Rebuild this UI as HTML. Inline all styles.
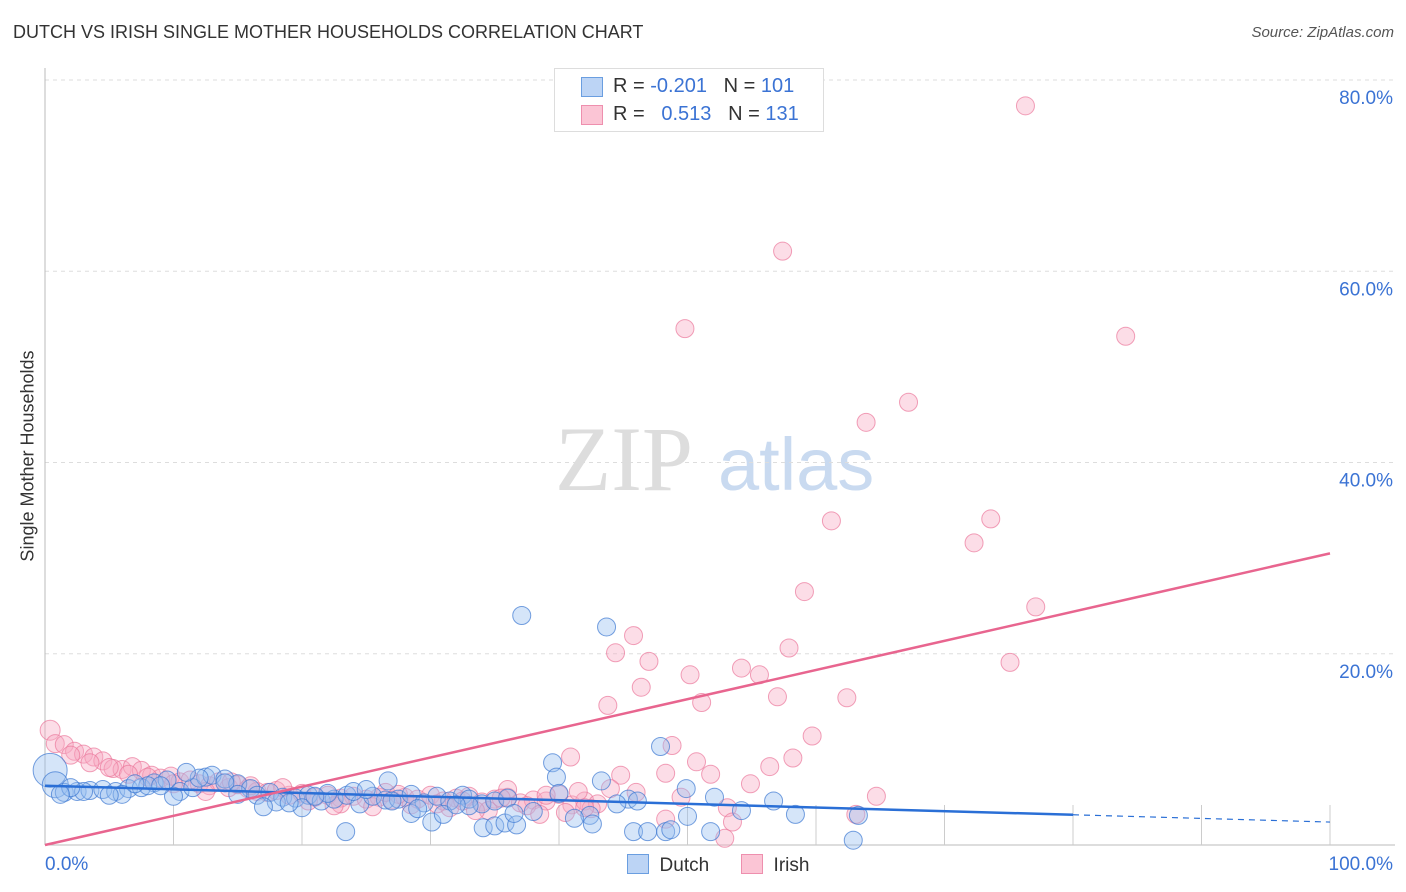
<!DOCTYPE html>
<html><head><meta charset="utf-8"><style>
body{margin:0;background:#fff;font-family:"Liberation Sans",sans-serif;}
#wrap{position:relative;width:1406px;height:892px;overflow:hidden;}
.t{position:absolute;white-space:nowrap;}
</style></head><body>
<div id="wrap">
<div class="t" style="left:13px;top:22px;font-size:18px;color:#333;">DUTCH VS IRISH SINGLE MOTHER HOUSEHOLDS CORRELATION CHART</div>
<div class="t" style="right:12px;top:24px;font-size:15px;color:#555;font-style:italic;">Source: ZipAtlas.com</div>
<svg id="svg" width="1406" height="892" style="position:absolute;left:0;top:0"></svg>
</div>
<script>
const xTicks=[0,100];
const yTicks=[20,40,60,80];
const dutchX=[0.4,0.8,1.5,2.5,3.5,4.5,5.5,6.5,7.5,8.5,9.5,10.5,11.5,12.5,13,14,15,16,16.5,17.5,18.5,19.5,20.5,21.5,22.5,23.5,24.5,25.5,26.5,27.5,28.5,29.5,30.5,31.5,32.5,33,34,35,36,14,12,10,8,6,18,20,22,24,26.7,28.5,37.1,43.7,47.9,39.5,39.8,43.3,49.9,52.1,56.7,45.4,46.1,50.0,58.4,63.3,54.2,42.4,41.2,30.1,34.1,35.0,35.8,36.7,23.4,45.8,46.9,48.3,48.7,51.8,62.9,42.6,38,40,33,31,27,25,21,19,17,15,11,9,7,5,3,2,1.2,29,32,36.5,44.5];
const dutchY=[7.8,6.3,5.5,5.6,5.7,5.8,5.6,5.9,6.0,6.5,6.8,5.6,6.0,7.1,7.3,6.9,6.4,5.9,5.2,5.5,5.0,4.9,5.2,4.6,4.8,5.2,4.3,5.1,4.7,4.8,5.3,4.4,5.1,4.6,5.2,4.8,4.3,4.6,4.9,6.5,7.0,5.1,6.2,5.3,4.5,3.9,5.4,5.6,6.7,3.3,24.0,22.8,10.3,8.6,7.1,6.7,5.9,5.0,4.6,4.8,4.6,3.0,3.2,3.1,3.6,3.1,2.8,2.4,1.8,2.0,2.3,2.1,1.4,1.4,1.4,1.4,1.6,1.4,0.5,2.2,3.5,5.4,4.1,3.2,4.6,5.8,5.1,4.4,4.0,5.3,7.6,6.2,6.4,5.2,5.6,6.0,5.3,3.8,4.2,3.3,4.3];
const irishX=[76.3,57.4,49.8,84.1,63.9,67.2,61.2,73.6,72.3,59.1,77.1,45.8,44.4,47.0,57.9,75.1,54.2,50.2,55.6,46.4,57.0,62.4,43.8,51.1,59.7,48.8,40.9,58.2,50.7,56.4,44.8,48.3,51.8,54.9,64.7,53.1,63.1,53.5,48.3,52.9,0.4,0.8,1.5,2.3,3.0,3.8,4.5,5.3,6.0,6.8,7.5,8.3,9.0,9.8,10.5,11.3,12.0,12.8,13.5,14.3,15.0,15.8,16.5,17.3,18.0,19.0,20.0,21.0,22.0,23.0,24.0,25.0,26.0,27.0,28.0,29.0,30.0,31.0,32.0,33.0,34.0,35.0,36.0,37.0,38.0,39.0,40.0,41.0,42.0,43.0,25.5,28.5,31.5,34.5,37.5,40.5,42.5,23,32.5,36,39,41.5,44,46,49.5,20.5,18.5,16,14.5,12.5,10,8,6.5,5,3.5,2,30.5,33.5,26.5,35.5,38.5,42,22.5,27.5];
const irishY=[77.3,62.1,54.0,53.2,44.2,46.3,33.9,34.1,31.6,26.5,24.9,21.9,20.1,19.2,20.6,19.1,18.5,17.8,17.8,16.5,15.5,15.4,14.6,14.9,11.4,10.4,9.2,9.1,8.7,8.2,7.3,7.5,7.4,6.4,5.1,3.9,3.2,2.4,2.7,0.7,12.0,10.6,10.5,9.8,9.5,9.2,8.8,8.0,7.9,8.2,7.8,7.3,7.0,7.2,6.6,6.8,6.4,6.2,6.6,6.0,6.3,5.9,5.6,5.5,5.7,5.2,5.4,5.0,5.2,4.9,5.1,4.8,5.0,4.7,5.0,4.8,5.2,4.6,4.9,5.1,4.5,4.8,5.0,4.4,4.7,4.6,5.3,4.2,4.6,4.3,4.0,4.2,3.9,3.6,4.1,3.4,3.8,4.3,4.6,5.8,5.2,5.6,5.9,5.5,5.0,4.6,6.0,6.2,6.6,5.6,6.4,7.1,7.4,8.1,8.6,9.4,4.3,3.6,5.5,4.9,3.2,3.9,4.1,5.3];
const dutchTrend=[6.2,2.4];
const irishTrend=[0,30.5];
const NS="http://www.w3.org/2000/svg";
const svg=document.getElementById('svg');
const X0=45,X1=1330,Y0=845,Y80=80;
const sx=v=>X0+(X1-X0)*v/100;
const sy=v=>Y0-(Y0-Y80)*v/80;
function mk(tag,attrs){const e=document.createElementNS(NS,tag);for(const k in attrs)e.setAttribute(k,attrs[k]);svg.appendChild(e);return e;}
// watermark
let wm=mk('text',{x:555,y:490,'font-size':92,'font-family':'Liberation Serif,serif',fill:'#ddd'});wm.textContent='ZIP';


let wm2=mk('text',{x:718,y:490,'font-size':74,'font-family':'Liberation Sans,sans-serif',fill:'#c9daf0'});wm2.textContent='atlas';


// grid
yTicks.forEach(v=>{
 let g=mk('line',{x1:X0,x2:1395,y1:sy(v),y2:sy(v),stroke:'#ddd','stroke-dasharray':'4,4'});
 
 
 let t=mk('text',{x:1393,y:sy(v)+24,'text-anchor':'end','font-size':19,fill:'#3b73d4'});t.textContent=v.toFixed(1)+'%';
 
 
});
let ax=mk('line',{x1:X0,x2:X0,y1:68,y2:Y0,stroke:'#bbb'});


let bx=mk('line',{x1:X0,x2:1395,y1:Y0,y2:Y0,stroke:'#bbb'});


for(let i=1;i<=10;i++){let tk=mk('line',{x1:sx(i*10),x2:sx(i*10),y1:Y0-40,y2:Y0,stroke:'#ccc'});
 
 }
xTicks.forEach(v=>{let t=mk('text',{x:v==0?45:1393,y:870,'text-anchor':v==0?'start':'end','font-size':19,fill:'#3b73d4'});t.textContent=v.toFixed(1)+'%';
 
 });
// points
irishX.forEach((x,i)=>{let r=i==40?10:9;let c=mk('circle',{cx:sx(x),cy:sy(irishY[i]),r:r,fill:'rgba(248,170,195,0.4)',stroke:'rgba(235,120,155,0.7)','stroke-width':1});
 
 });
dutchX.forEach((x,i)=>{let r=i==0?17:(i==1?13:9);let c=mk('circle',{cx:sx(x),cy:sy(dutchY[i]),r:r,fill:'rgba(150,190,240,0.4)',stroke:'rgba(60,120,210,0.7)','stroke-width':1});
 
 });
// trends
const bAt=x=>dutchTrend[0]+(dutchTrend[1]-dutchTrend[0])*x/100;
let tl=mk('line',{x1:sx(0),y1:sy(bAt(0)),x2:sx(80),y2:sy(bAt(80)),stroke:'#2a6fd6','stroke-width':2.5});


let td=mk('line',{x1:sx(80),y1:sy(bAt(80)),x2:sx(100),y2:sy(bAt(100)),stroke:'#2a6fd6','stroke-width':1.2,'stroke-dasharray':'6,5'});


let pl=mk('line',{x1:sx(0),y1:sy(irishTrend[0]),x2:sx(100),y2:sy(irishTrend[1]),stroke:'#e8658f','stroke-width':2.5});


</script>
<div class="t" style="left:28px;top:456px;font-size:18px;color:#333;transform:translate(-50%,-50%) rotate(-90deg);">Single Mother Households</div>
<div style="position:absolute;left:554px;top:68px;width:268px;height:62px;border:1px solid #ddd;background:#fff;font-size:20px;">
 <div style="position:absolute;left:26px;top:8px;width:20px;height:18px;background:#bcd4f5;border:1px solid #6a9ee0;"></div>
 <div class="t" style="left:58px;top:6px;color:#333;">R = <span style="color:#3b73d4">-0.201</span>&nbsp;&nbsp;&nbsp;N = <span style="color:#3b73d4">101</span></div>
 <div style="position:absolute;left:26px;top:36px;width:20px;height:18px;background:#fbc5d5;border:1px solid #ee8fae;"></div>
 <div class="t" style="left:58px;top:34px;color:#333;">R = &nbsp;&nbsp;<span style="color:#3b73d4">0.513</span>&nbsp;&nbsp;&nbsp;N = <span style="color:#3b73d4">131</span></div>
</div>
<div style="position:absolute;left:627px;top:854px;font-size:19px;color:#333;">
 <span style="display:inline-block;width:20px;height:18px;background:#bcd4f5;border:1px solid #6a9ee0;vertical-align:-3px;"></span>&nbsp; Dutch</div>
<div style="position:absolute;left:741px;top:854px;font-size:19px;color:#333;">
 <span style="display:inline-block;width:20px;height:18px;background:#fbc5d5;border:1px solid #ee8fae;vertical-align:-3px;"></span>&nbsp; Irish</div>
</body></html>
